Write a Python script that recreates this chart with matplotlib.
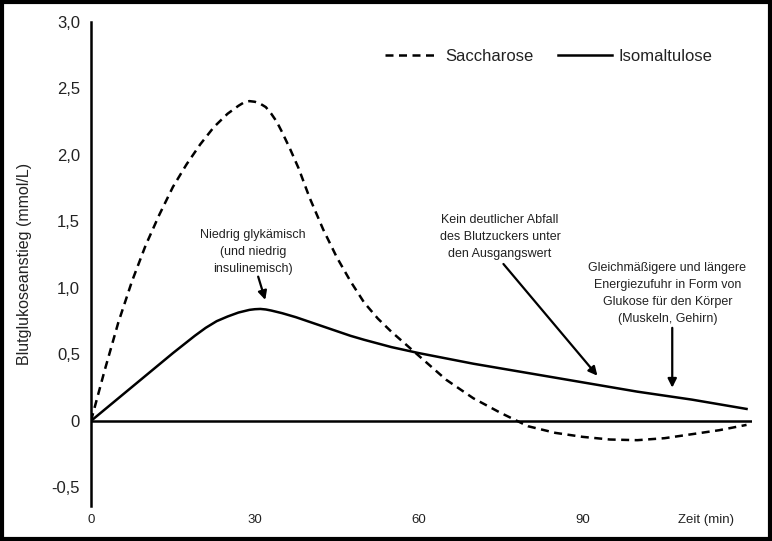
import matplotlib.pyplot as plt
from matplotlib.patches import Rectangle

# Values (time in min, rise in mmol/L)
SACCHAROSE_T = [0, 2.5, 5, 7.5, 10, 12.5, 15, 17.5, 20, 22.5, 25, 27, 28, 29,
                30, 31, 32, 33, 34, 35, 36.5, 38, 40, 42.5, 45, 47.5, 50, 52.5,
                55, 57.5, 60, 65, 70, 75, 80, 85, 90, 95, 100, 105, 110, 115, 120]
SACCHAROSE_Y = [0, 0.38, 0.74, 1.05, 1.32, 1.55, 1.76, 1.93, 2.08, 2.21, 2.31,
                2.37, 2.395, 2.405, 2.40, 2.385, 2.36, 2.31, 2.25, 2.17, 2.04,
                1.90, 1.68, 1.44, 1.23, 1.05, 0.89, 0.77, 0.67, 0.58, 0.49,
                0.31, 0.17, 0.06, -0.04, -0.09, -0.12, -0.14, -0.145, -0.13,
                -0.10, -0.07, -0.03]

ISOMALTULOSE_T = [0, 5, 10, 15, 19, 21, 23, 25, 27, 29, 30, 31, 32, 33, 35,
                  37.5, 40, 42.5, 45, 47.5, 50, 55, 60, 70, 80, 90, 100, 110, 120]
ISOMALTULOSE_Y = [0, 0.17, 0.34, 0.51, 0.64, 0.70, 0.75, 0.785, 0.815, 0.835,
                  0.84, 0.842, 0.838, 0.83, 0.81, 0.78, 0.745, 0.71, 0.675,
                  0.64, 0.61, 0.555, 0.51, 0.43, 0.36, 0.29, 0.22, 0.16, 0.09]

Y_TICKS = [-0.5, 0, 0.5, 1.0, 1.5, 2.0, 2.5, 3.0]
Y_TICK_LABELS = ["-0,5", "0", "0,5", "1,0", "1,5", "2,0", "2,5", "3,0"]
X_TICKS = [0, 30, 60, 90, 112.5]
X_TICK_LABELS = ["0", "30", "60", "90", "Zeit (min)"]

NOTE_COLOR = "#222222"

plt.rcParams["font.family"] = ["Liberation Sans", "DejaVu Sans"]

fig = plt.figure(figsize=(7.72, 5.41), dpi=100)
ax = fig.add_axes([91 / 772, 1 - 506 / 541, (752 - 91) / 772, (506 - 22) / 541])

ax.plot(SACCHAROSE_T, SACCHAROSE_Y, color="black", linestyle=(0, (3.2, 2.2)),
        linewidth=1.8, label="Saccharose")
ax.plot(ISOMALTULOSE_T, ISOMALTULOSE_Y, color="black", linewidth=1.8,
        label="Isomaltulose")
ax.axhline(0, color="black", linewidth=1.8)

ax.set_xlim(0, 121)
ax.set_ylim(-0.64, 3.0)
for side in ["top", "right", "bottom"]:
    ax.spines[side].set_visible(False)
ax.spines["left"].set_linewidth(1.8)

ax.set_yticks(Y_TICKS)
ax.set_yticklabels(Y_TICK_LABELS, fontsize=12, color=NOTE_COLOR)
ax.set_xticks(X_TICKS)
ax.set_xticklabels(X_TICK_LABELS, fontsize=9.5, color=NOTE_COLOR)
ax.tick_params(axis="y", length=0, pad=8)
ax.tick_params(axis="x", length=0, pad=6)
ax.set_ylabel("Blutglukoseanstieg (mmol/L)", fontsize=11.5, labelpad=14,
              color=NOTE_COLOR)

ax.legend(loc="upper left", bbox_to_anchor=(0.422, 0.975), ncol=2, frameon=False,
          fontsize=12, handlelength=3.2, columnspacing=1.5, handletextpad=0.4,
          labelcolor=NOTE_COLOR)

# Annotation texts
ax.text(29.7, 1.27, "Niedrig glykämisch\n(und niedrig\ninsulinemisch)",
        ha="center", va="center", fontsize=9, linespacing=1.55, color=NOTE_COLOR)
ax.text(74.9, 1.38, "Kein deutlicher Abfall\ndes Blutzuckers unter\nden Ausgangswert",
        ha="center", va="center", fontsize=9, linespacing=1.55, color=NOTE_COLOR)
ax.text(105.5, 0.957,
        "Gleichmäßigere und längere\nEnergiezufuhr in Form von\nGlukose für den Körper\n(Muskeln, Gehirn)",
        ha="center", va="center", fontsize=9, linespacing=1.55, color=NOTE_COLOR)

# Arrows
arrow_style = dict(arrowstyle="-|>", color="black", lw=1.6, mutation_scale=13,
                   shrinkA=0, shrinkB=0)
ax.annotate("", xy=(31.9, 0.91), xytext=(30.6, 1.085), arrowprops=arrow_style)
ax.annotate("", xy=(92.7, 0.34), xytext=(75.5, 1.18), arrowprops=arrow_style)
ax.annotate("", xy=(106.4, 0.25), xytext=(106.4, 0.70), arrowprops=arrow_style)

# Frame around the whole picture
fig.patches.append(Rectangle((0.002, 0.004), 0.995, 0.993, transform=fig.transFigure,
                             fill=False, edgecolor="black", linewidth=3.0))

fig.savefig("out.png", dpi=100)
